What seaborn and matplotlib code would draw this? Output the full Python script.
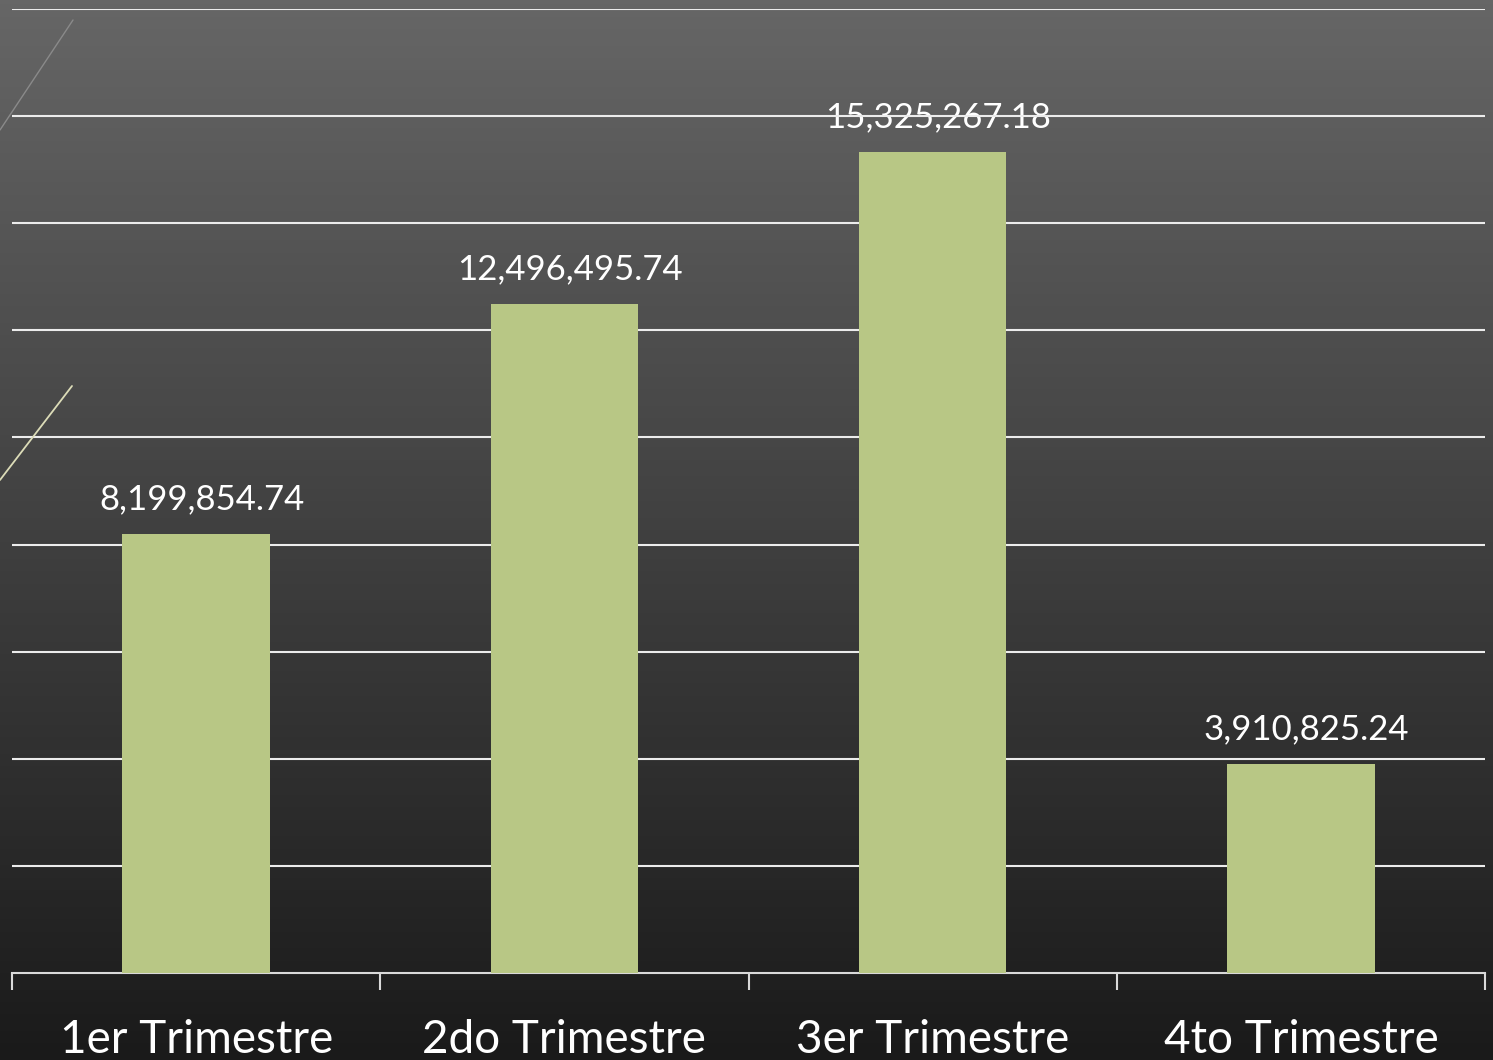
import numpy as np
import matplotlib
matplotlib.use("Agg")
import matplotlib.pyplot as plt
from matplotlib.lines import Line2D
from matplotlib.ticker import FixedLocator
import seaborn as sns

# data
trimestres = ["1er Trimestre", "2do Trimestre", "3er Trimestre", "4to Trimestre"]
montos = [8199854.74, 12496495.74, 15325267.18, 3910825.24]
y_max = 18000000
y_step = 2000000

sns.set_theme(style="white")
plt.rcParams["font.family"] = ["Lato", "DejaVu Sans"]

W, H = 1493, 1060
fig = plt.figure(figsize=(W / 100, H / 100), dpi=100)

# gradient background like the slide
bg = fig.add_axes([0, 0, 1, 1], zorder=-10)
grad = np.linspace(0, 1, 256).reshape(-1, 1)
bg.imshow(grad, aspect="auto", cmap=matplotlib.colors.LinearSegmentedColormap.from_list(
    "slide", ["#666666", "#1a1a1a"]), extent=[0, 1, 0, 1])
bg.set_axis_off()

# decorative thin lines on the left
fig.add_artist(Line2D([0 / W, 73 / W], [1 - 130 / H, 1 - 20 / H], color="#8a8a8a", lw=1.0))
fig.add_artist(Line2D([0 / W, 72 / W], [1 - 480 / H, 1 - 386 / H], color="#dcdcb8", lw=1.3))

ax = fig.add_axes([12 / W, (H - 973) / H, (1485 - 12) / W, (973 - 9) / H])
ax.set_facecolor("none")

sns.barplot(x=trimestres, y=montos, color="#b8c785", saturation=1, width=0.4,
            edgecolor="none", linewidth=0, ax=ax, zorder=3)

ax.set_ylim(0, y_max)
ax.set_xlim(-0.5, len(trimestres) - 0.5)
for v in np.arange(y_step, y_max + 1, y_step):
    ax.axhline(v, color="#ececec", lw=1.5, zorder=1)

for i, v in enumerate(montos):
    ax.annotate(f"{v:,.2f}", (i, v), xytext=(4, 25), textcoords="offset points",
                ha="center", va="center", color="white", fontsize=25, zorder=0.8)

for s in ["top", "right", "left"]:
    ax.spines[s].set_visible(False)
ax.spines["bottom"].set_color("#d9d9d9")
ax.spines["bottom"].set_linewidth(1.5)

ax.set_yticks([])
ax.set_xlabel("")
ax.set_ylabel("")
ax.xaxis.set_minor_locator(FixedLocator(np.arange(-0.5, len(trimestres), 1.0)))
ax.tick_params(axis="x", which="minor", length=12, width=1.5, color="#d9d9d9", bottom=True)
ax.tick_params(axis="x", which="major", length=0, pad=33, labelsize=33, labelcolor="white")

fig.savefig("out.png", dpi=100)
